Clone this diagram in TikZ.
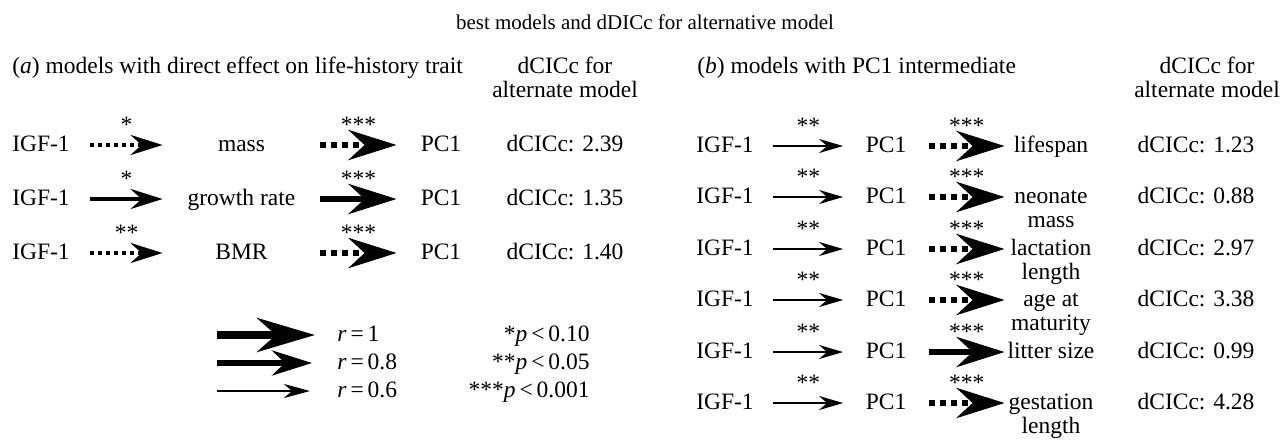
\documentclass[tikz,border=0pt]{standalone}
\usepackage{fontspec}
\setmainfont{Liberation Serif}
\usetikzlibrary{arrows.meta}
\newcommand{\twoline}[2]{\begin{tabular}[t]{@{}c@{}}#1\\#2\end{tabular}}

\begin{document}
\begin{tikzpicture}[x=0.5pt, y=-0.5pt,
    every node/.style={font=\fontsize{11.75}{12}\selectfont, inner sep=0pt, text height=1.5ex, text depth=0pt},
    stars/.style={midway, yshift=9.5pt},
    r6/.style={line width=1.3pt, -{Stealth[length=12pt, width=7pt, inset=4pt]}},
    r8/.style={line width=2pt, -{Stealth[length=16pt, width=10pt, inset=5.5pt]}},
    r10/.style={line width=3.3pt, -{Stealth[length=24pt, width=15pt, inset=8pt]}},
    k6/.style={line width=1.3pt, -{Stealth[length=13pt, width=7pt, inset=4pt]}},
    k8/.style={line width=2.8pt, -{Stealth[length=20pt, width=12.5pt, inset=6.5pt]}},
    k10/.style={line width=3.8pt, -{Stealth[length=29pt, width=17pt, inset=9.5pt]}},
    dotline/.style={dash pattern=on 2pt off 2pt},
    dashline/.style={dash pattern=on 3pt off 2.5pt}]
  \useasboundingbox (0,0) rectangle (1280,446);

  % headings
  \node (title) at (645,23) [font=\fontsize{10.5}{12}\selectfont] {best models and dDICc for alternative model};
  \node (hda) [anchor=west] at (12,67)  {(\textit{a}) models with direct effect on life-history trait};
  \node (hdc)               at (565,67) {\twoline{dCICc for}{alternate model}};
  \node (hdb) [anchor=west] at (697,67) {(\textit{b}) models with PC1 intermediate};
  \node (hdd)               at (1207,67) {\twoline{dCICc for}{alternate model}};

  % (a) direct effect
  \node (i1) [minimum width=49pt]   at (41,145)    {IGF-1};
  \node (m1) [minimum width=78.5pt] at (241.5,145) {mass};
  \node (p1) [minimum width=44pt]   at (441,145)   {PC1};
  \node (v1)                        at (565,145)   {dCICc: 2.39};
  \node (i2) [minimum width=49pt]   at (41,199)    {IGF-1};
  \node (m2) [minimum width=78.5pt] at (241.5,199) {growth rate};
  \node (p2) [minimum width=44pt]   at (441,199)   {PC1};
  \node (v2)                        at (565,199)   {dCICc: 1.35};
  \node (i3) [minimum width=49pt]   at (41,253)    {IGF-1};
  \node (m3) [minimum width=78.5pt] at (241.5,253) {BMR};
  \node (p3) [minimum width=44pt]   at (441,253)   {PC1};
  \node (v3)                        at (565,253)   {dCICc: 1.40};
  \draw[r8, dotline]   (i1) -- node[stars] {*}   (m1);
  \draw[r10, dashline] (m1) -- node[stars] {***} (p1);
  \draw[r8]            (i2) -- node[stars] {*}   (m2);
  \draw[r10]           (m2) -- node[stars] {***} (p2);
  \draw[r8, dotline]   (i3) -- node[stars] {**}  (m3);
  \draw[r10, dashline] (m3) -- node[stars] {***} (p3);

  % legend
  \coordinate (k1) at (217,335);
  \coordinate (k2) at (217,363);
  \coordinate (k3) at (217,391);
  \node (g1) [anchor=west] at (337,335) {\textit{r}\,=\,1};
  \node (g2) [anchor=west] at (337,363) {\textit{r}\,=\,0.8};
  \node (g3) [anchor=west] at (337,391) {\textit{r}\,=\,0.6};
  \node (q1) [anchor=east] at (590,335) {*\textit{p}\,<\,0.10};
  \node (q2) [anchor=east] at (590,363) {**\textit{p}\,<\,0.05};
  \node (q3) [anchor=east] at (590,391) {***\textit{p}\,<\,0.001};
  \draw[k10, shorten >=11pt]   (k1) -- (g1);
  \draw[k8, shorten >=12.5pt]  (k2) -- (g2);
  \draw[k6, shorten >=13.5pt]  (k3) -- (g3);

  % (b) PC1 intermediate
  \node (j1) [minimum width=48pt]   at (725,146) {IGF-1};
  \node (c1) [minimum width=42.5pt] at (886,146) {PC1};
  \node (t1) [minimum width=46pt]   at (1051,146) {lifespan};
  \node (w1)                        at (1196,146) {dCICc: 1.23};
  \node (j2) [minimum width=48pt]   at (725,197) {IGF-1};
  \node (c2) [minimum width=42.5pt] at (886,197) {PC1};
  \node (t2) [minimum width=46pt]   at (1051,197) {\twoline{neonate}{mass}};
  \node (w2)                        at (1196,197) {dCICc: 0.88};
  \node (j3) [minimum width=48pt]   at (725,249) {IGF-1};
  \node (c3) [minimum width=42.5pt] at (886,249) {PC1};
  \node (t3) [minimum width=46pt]   at (1051,249) {\twoline{lactation}{length}};
  \node (w3)                        at (1196,249) {dCICc: 2.97};
  \node (j4) [minimum width=48pt]   at (725,300) {IGF-1};
  \node (c4) [minimum width=42.5pt] at (886,300) {PC1};
  \node (t4) [minimum width=46pt]   at (1051,300) {\twoline{age at}{maturity}};
  \node (w4)                        at (1196,300) {dCICc: 3.38};
  \node (j5) [minimum width=48pt]   at (725,352) {IGF-1};
  \node (c5) [minimum width=42.5pt] at (886,352) {PC1};
  \node (t5) [minimum width=46pt]   at (1051,352) {litter size};
  \node (w5)                        at (1196,352) {dCICc: 0.99};
  \node (j6) [minimum width=48pt]   at (725,403) {IGF-1};
  \node (c6) [minimum width=42.5pt] at (886,403) {PC1};
  \node (t6) [minimum width=46pt]   at (1051,403) {\twoline{gestation}{length}};
  \node (w6)                        at (1196,403) {dCICc: 4.28};
  \draw[r6]            (j1) -- node[stars] {**}  (c1);
  \draw[r10, dashline] (c1) -- node[stars] {***} (t1);
  \draw[r6]            (j2) -- node[stars] {**}  (c2);
  \draw[r10, dashline] (c2) -- node[stars] {***} (t2);
  \draw[r6]            (j3) -- node[stars] {**}  (c3);
  \draw[r10, dashline] (c3) -- node[stars] {***} (t3);
  \draw[r6]            (j4) -- node[stars] {**}  (c4);
  \draw[r10, dashline] (c4) -- node[stars] {***} (t4);
  \draw[r6]            (j5) -- node[stars] {**}  (c5);
  \draw[r10]           (c5) -- node[stars] {***} (t5);
  \draw[r6]            (j6) -- node[stars] {**}  (c6);
  \draw[r10, dashline] (c6) -- node[stars] {***} (t6);
\end{tikzpicture}
\end{document}
